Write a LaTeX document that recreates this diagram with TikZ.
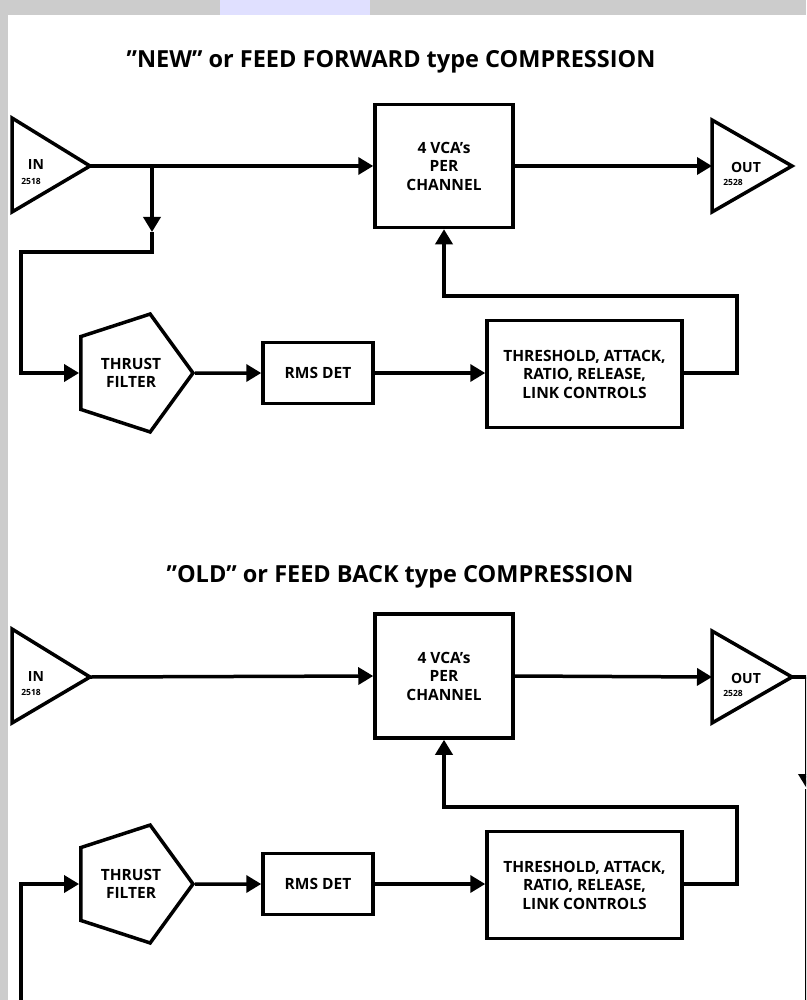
\documentclass[tikz,border=0pt]{standalone}
\usepackage{fontspec}
\setmainfont{Open Sans}
\usetikzlibrary{arrows.meta,shapes.geometric}
\begin{document}
\begin{tikzpicture}[x=1pt,y=-1pt,
  wire/.style={line width=3.5pt,line join=miter},
  conn/.style={wire,-{Triangle[length=15pt,width=17pt]}},
  blk/.style={draw,line width=3.5pt,inner sep=0pt,align=center,font=\bfseries\fontsize{15.5}{18.5}\selectfont},
  amp/.style={draw,line width=3.5pt,line join=miter},
  lbl/.style={font=\bfseries\fontsize{14}{16}\selectfont,inner sep=0pt},
  tinylbl/.style={font=\bfseries\fontsize{8.5}{9}\selectfont,inner sep=0pt},
  ttl/.style={font=\bfseries\fontsize{23.5}{26}\selectfont,inner sep=0pt},
  pent/.style={blk,regular polygon,regular polygon sides=5,shape border rotate=-90,minimum size=124pt}
]
\useasboundingbox (0,0) rectangle (806,1000);
\fill[gray!40] (0,0) rectangle (806,1000);
\fill[blue!12] (220,0) rectangle (370,15);
\fill[white] (8,15) rectangle (806,1000);
\begin{scope}
\clip (8,15) rectangle (806,1000);
% ---------------- top: feed forward ----------------
\node[ttl] (t1) at (391,62) {”NEW” or FEED FORWARD type COMPRESSION};
\draw[amp] (12,118) -- (90,166) -- (12,212) -- cycle;
\coordinate (in1) at (90,166);
\node[lbl] (inl1) at (36,165) {IN};
\node[tinylbl] (ins1) at (31,181) {2518};
\node[blk,minimum width=138pt,minimum height=123pt] (vca1) at (444,166) {4 VCA’s\\PER\\CHANNEL};
\draw[amp] (712,120) -- (792,166) -- (712,212) -- cycle;
\coordinate (out1) at (712,166);
\node[lbl] (outl1) at (746,167) {OUT};
\node[tinylbl] (outs1) at (733,182) {2528};
\node[pent] (tf1) at (131,373) {THRUST\\FILTER};
\node[blk,minimum width=110pt,minimum height=61pt] (rms1) at (318,373) {RMS DET};
\node[blk,minimum width=195pt,minimum height=107pt] (thr1) at (584.5,374) {THRESHOLD, ATTACK,\\RATIO, RELEASE,\\LINK CONTROLS};
\coordinate (b1) at (152,166);
\coordinate (b1a) at (152,232);
\coordinate (b2) at (152,252);
\coordinate (b3) at (21,252);
\coordinate (fr1) at (737,296);
\draw[conn] (in1) -- (vca1.west);
\draw[conn] (vca1.east) -- (out1);
\draw[conn] (b1) -- (b1a);
\draw[conn] (b1a) -- (b2) -- (b3) |- (tf1.west);
\draw[conn] (tf1.east) -- (rms1.west);
\draw[conn] (rms1.east) -- (rms1.east -| thr1.west);
\draw[conn] (rms1.east -| thr1.east) -| (fr1) -| (vca1.south);
% ---------------- bottom: feed back ----------------
\node[ttl] (t2) at (400,577) {”OLD” or FEED BACK type COMPRESSION};
\draw[amp] (12,629) -- (90,677) -- (12,723) -- cycle;
\coordinate (in2) at (90,677);
\node[lbl] (inl2) at (36,676) {IN};
\node[tinylbl] (ins2) at (31,692) {2518};
\node[blk,minimum width=138pt,minimum height=124pt] (vca2) at (444,676) {4 VCA’s\\PER\\CHANNEL};
\draw[amp] (712,631) -- (792,677) -- (712,723) -- cycle;
\coordinate (out2) at (712,677);
\coordinate (o2) at (792,677);
\node[lbl] (outl2) at (746,678) {OUT};
\node[tinylbl] (outs2) at (733,693) {2528};
\node[pent] (tf2) at (131,884) {THRUST\\FILTER};
\node[blk,minimum width=110pt,minimum height=61pt] (rms2) at (318,884) {RMS DET};
\node[blk,minimum width=195pt,minimum height=107pt] (thr2) at (584.5,885) {THRESHOLD, ATTACK,\\RATIO, RELEASE,\\LINK CONTROLS};
\coordinate (fr2) at (737,807);
\coordinate (c1) at (807,677);
\coordinate (c2) at (807,789);
\coordinate (c3) at (807,1012);
\coordinate (c4) at (21,1012);
\draw[conn] (in2) -- (vca2.west);
\draw[conn] (vca2.east) -- (out2);
\draw[conn] (tf2.east) -- (rms2.west);
\draw[conn] (rms2.east) -- (rms2.east -| thr2.west);
\draw[conn] (rms2.east -| thr2.east) -| (fr2) -| (vca2.south);
\draw[wire] (o2) -- (c1);
\draw[conn] (c1) -- (c2);
\draw[conn] (c2) -- (c3) -- (c4) |- (tf2.west);
\end{scope}
\end{tikzpicture}
\end{document}
